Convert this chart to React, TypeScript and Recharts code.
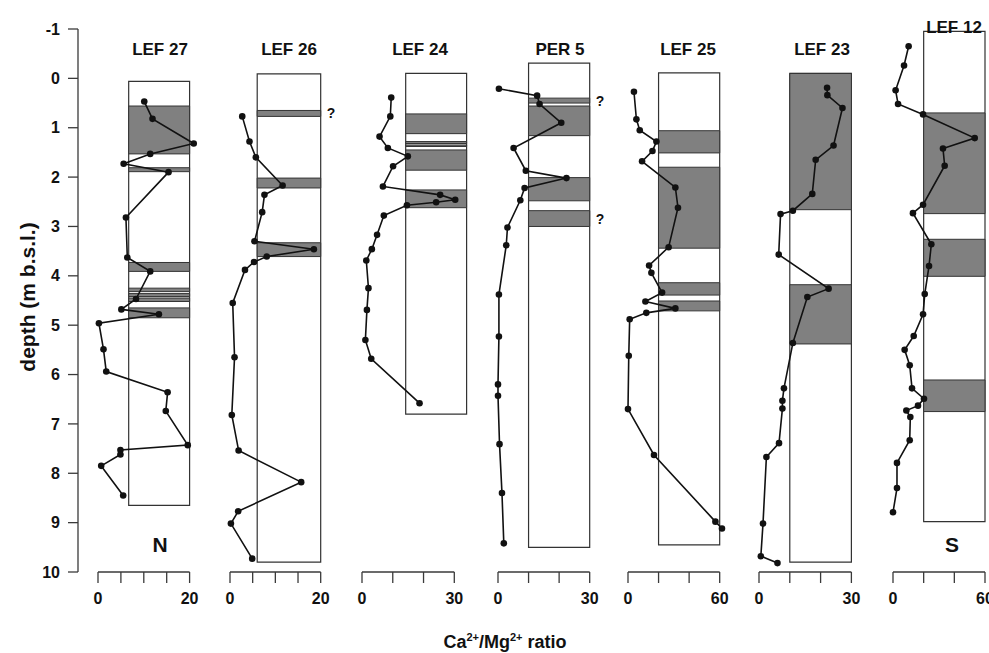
import React from "react";
import { ComposedChart, Scatter, XAxis, YAxis, ZAxis, ReferenceArea } from "recharts";

// depth axis (m b.s.l.)
const depthTicks = [-1, 0, 1, 2, 3, 4, 5, 6, 7, 8, 9, 10];

// LEF 27
const lef27Depth = [0.47, 0.82, 1.32, 1.53, 1.73, 1.9, 2.82, 3.63, 3.91, 4.47, 4.68, 4.78, 4.96, 5.49, 5.94, 6.36, 6.74, 7.43, 7.53, 7.62, 7.85, 8.45];
const lef27Ratio = [10.1, 11.9, 20.9, 11.4, 5.6, 15.4, 6.1, 6.4, 11.4, 8.3, 5.1, 13.3, 0.2, 1.2, 1.8, 15.2, 14.8, 19.6, 4.9, 4.9, 0.7, 5.5];
const lef27Core = [0.06, 8.65];
const lef27Bands = [[0.56, 1.53], [1.81, 1.89], [3.73, 3.91], [4.25, 4.32], [4.36, 4.42], [4.45, 4.52], [4.65, 4.85]];

// LEF 26
const lef26Depth = [0.77, 1.28, 1.6, 2.17, 2.36, 2.71, 3.3, 3.46, 3.61, 3.72, 3.88, 4.55, 5.65, 6.82, 7.54, 8.18, 8.77, 9.02, 9.73];
const lef26Ratio = [2.7, 4.3, 5.7, 11.6, 7.6, 7.1, 5.4, 18.5, 8.1, 5.3, 3.3, 0.6, 1.0, 0.4, 1.9, 15.7, 1.8, 0.2, 4.9];
const lef26Core = [-0.09, 9.8];
const lef26Bands = [[0.65, 0.77], [2.02, 2.22], [3.33, 3.61]];

// LEF 24
const lef24Depth = [0.39, 0.77, 1.18, 1.41, 1.58, 1.78, 2.19, 2.36, 2.46, 2.51, 2.57, 2.78, 3.17, 3.46, 3.69, 4.25, 4.69, 5.3, 5.68, 6.58];
const lef24Ratio = [9.5, 9.2, 5.7, 8.4, 14.9, 10.1, 6.8, 25.4, 30.3, 24.1, 14.6, 7.1, 4.9, 3.2, 1.4, 2.1, 1.6, 1.1, 3.0, 18.7];
const lef24Core = [-0.1, 6.8];
const lef24Bands = [[0.72, 1.12], [1.28, 1.32], [1.35, 1.38], [1.45, 1.86], [2.26, 2.62]];

// PER 5
const per5Depth = [0.21, 0.35, 0.52, 0.9, 1.41, 1.87, 2.02, 2.22, 2.47, 3.02, 3.38, 4.38, 5.23, 6.2, 6.43, 7.41, 8.4, 9.42];
const per5Ratio = [0.3, 12.8, 13.6, 20.7, 5.1, 9.1, 22.4, 8.7, 7.3, 3.1, 2.7, 0.3, 0.3, 0.0, 0.0, 0.5, 1.3, 1.9];
const per5Core = [-0.31, 9.5];
const per5Bands = [[0.4, 0.5], [0.56, 1.16], [2.01, 2.48], [2.68, 3.0]];

// LEF 25
const lef25Depth = [0.27, 0.83, 1.05, 1.28, 1.47, 1.68, 2.21, 2.62, 3.42, 3.79, 3.94, 4.34, 4.52, 4.66, 4.75, 4.88, 5.62, 6.7, 7.63, 8.98, 9.12];
const lef25Ratio = [3.9, 5.5, 7.7, 18.6, 16.0, 9.2, 31.0, 32.7, 26.6, 13.8, 15.3, 22.3, 11.4, 31.0, 12.0, 1.1, 0.5, 0.0, 17.0, 57.2, 61.5];
const lef25Core = [-0.11, 9.45];
const lef25Bands = [[1.06, 1.51], [1.8, 3.44], [4.14, 4.39], [4.51, 4.71]];

// LEF 23
const lef23Depth = [0.19, 0.34, 0.6, 1.36, 1.65, 2.34, 2.68, 2.75, 3.57, 4.26, 4.43, 5.36, 6.28, 6.53, 6.69, 7.39, 7.67, 9.02, 9.68, 9.82];
const lef23Ratio = [22.1, 22.2, 27.1, 24.2, 18.4, 17.3, 11.0, 7.0, 6.4, 22.6, 15.7, 11.0, 8.1, 7.6, 7.6, 6.5, 2.4, 1.3, 0.6, 6.0];
const lef23Core = [-0.1, 9.8];
const lef23Bands = [[-0.1, 2.66], [4.18, 5.38]];

// LEF 12
const lef12Depth = [-0.65, -0.26, 0.24, 0.52, 0.73, 1.21, 1.42, 1.77, 2.56, 2.73, 3.36, 3.8, 4.37, 4.78, 5.22, 5.5, 5.81, 6.28, 6.49, 6.63, 6.73, 6.86, 7.33, 7.79, 8.3, 8.79];
const lef12Ratio = [10.2, 7.2, 1.7, 3.3, 19.6, 53.3, 32.6, 33.7, 19.6, 13.0, 25.0, 23.5, 20.7, 19.6, 13.5, 7.6, 10.9, 12.4, 20.2, 16.3, 8.7, 11.3, 10.9, 2.6, 2.6, 0.0];
const lef12Core = [-0.95, 8.98];
const lef12Bands = [[0.7, 2.74], [3.26, 4.01], [6.11, 6.75]];

const W = 989;
const H = 653;
const TOP = 29; // y of depth -1
const BOTTOM = 572; // y of depth 10
const XH = 40;
const FONT = "'Liberation Sans', Arial, sans-serif";
const INK = "#111";
const LINE = "#3a3a3a";

const panels = [
  { name: "LEF 27", depth: lef27Depth, ratio: lef27Ratio, core: lef27Core, coreX: [6.7, 20], bands: lef27Bands, query: [], max: 20, ticks: [0, 5, 10, 15, 20], x0: 97.7, x1: 189.3, title: [160, 50] },
  { name: "LEF 26", depth: lef26Depth, ratio: lef26Ratio, core: lef26Core, coreX: [6, 20], bands: lef26Bands, query: [0], max: 20, ticks: [0, 5, 10, 15, 20], x0: 230, x1: 320.7, title: [289, 50] },
  { name: "LEF 24", depth: lef24Depth, ratio: lef24Ratio, core: lef24Core, coreX: [14.2, 34], bands: lef24Bands, query: [], max: 30, ticks: [0, 10, 20, 30], x0: 361.7, x1: 454, title: [420, 50] },
  { name: "PER 5", depth: per5Depth, ratio: per5Ratio, core: per5Core, coreX: [10, 30], bands: per5Bands, query: [0, 3], max: 30, ticks: [0, 10, 20, 30], x0: 498.3, x1: 590, title: [560, 50] },
  { name: "LEF 25", depth: lef25Depth, ratio: lef25Ratio, core: lef25Core, coreX: [20, 60], bands: lef25Bands, query: [], max: 60, ticks: [0, 20, 40, 60], x0: 628.3, x1: 720, title: [688, 50] },
  { name: "LEF 23", depth: lef23Depth, ratio: lef23Ratio, core: lef23Core, coreX: [10, 30], bands: lef23Bands, query: [], max: 30, ticks: [0, 10, 20, 30], x0: 759.3, x1: 851.7, title: [822, 50] },
  { name: "LEF 12", depth: lef12Depth, ratio: lef12Ratio, core: lef12Core, coreX: [20, 60], bands: lef12Bands, query: [], max: 60, ticks: [0, 20, 40, 60], x0: 893.3, x1: 985.3, title: [954, 28] },
];

const tickStyle = { fill: INK, fontSize: 16, fontWeight: 700, fontFamily: FONT };

function CorePanel({ p }: { p: any }) {
  const ml = 20;
  const mr = 36;
  const data = p.depth.map((d: number, i: number) => ({ depth: d, ratio: p.ratio[i] }));
  return (
    <div style={{ position: "absolute", left: p.x0 - ml, top: 0 }}>
      <ComposedChart
        width={p.x1 - p.x0 + ml + mr}
        height={H}
        margin={{ top: TOP, bottom: H - BOTTOM - XH, left: ml, right: mr }}
        data={data}
      >
        <XAxis
          type="number"
          dataKey="ratio"
          domain={[0, p.max]}
          allowDataOverflow
          ticks={p.ticks}
          interval={0}
          tickFormatter={(v) => (v === 0 || v === p.max ? `${v}` : "")}
          height={XH}
          tickSize={11}
          tickMargin={10}
          stroke={LINE}
          strokeWidth={1.3}
          tick={tickStyle}
        />
        <YAxis type="number" dataKey="depth" domain={[-1, 10]} reversed hide allowDataOverflow />
        <ZAxis range={[34, 34]} />
        <ReferenceArea
          x1={p.coreX[0]}
          x2={p.coreX[1]}
          y1={p.core[0]}
          y2={p.core[1]}
          fill="#fff"
          fillOpacity={1}
          stroke="#333"
          strokeWidth={1.2}
          ifOverflow="visible"
        />
        {p.bands.map((b: number[], i: number) => (
          <ReferenceArea
            key={i}
            x1={p.coreX[0]}
            x2={p.coreX[1]}
            y1={b[0]}
            y2={b[1]}
            fill="#808080"
            fillOpacity={1}
            stroke="#333"
            strokeWidth={1}
            ifOverflow="visible"
            label={
              p.query.includes(i)
                ? { value: "?", position: "right", offset: 6, fill: INK, fontSize: 14, fontWeight: 700, fontFamily: FONT }
                : undefined
            }
          />
        ))}
        <Scatter
          data={data}
          dataKey="ratio"
          fill={INK}
          line={{ stroke: INK, strokeWidth: 1.6 }}
          isAnimationActive={false}
        />
      </ComposedChart>
    </div>
  );
}

export default function App() {
  const axisData = depthTicks.map((d) => ({ depth: d }));
  return (
    <div style={{ position: "absolute", left: 0, top: 0, width: W, height: H, background: "#fff", fontFamily: FONT, color: INK }}>
      <style>{`.recharts-wrapper [clip-path]{clip-path:none !important}`}</style>
      <div style={{ position: "absolute", left: 0, top: 0 }}>
        <ComposedChart width={90} height={H} margin={{ top: TOP, bottom: H - BOTTOM, left: 0, right: 0 }} data={axisData}>
          <XAxis hide type="number" domain={[0, 1]} allowDataOverflow />
          <YAxis
            type="number"
            dataKey="depth"
            domain={[-1, 10]}
            allowDataOverflow
            reversed
            ticks={depthTicks}
            interval={0}
            width={78}
            tickSize={10}
            tickMargin={8}
            stroke={LINE}
            strokeWidth={1.3}
            tick={tickStyle}
          />
        </ComposedChart>
      </div>
      {panels.map((p) => (
        <CorePanel key={p.name} p={p} />
      ))}
      {panels.map((p) => (
        <div
          key={p.name + "t"}
          style={{ position: "absolute", left: p.title[0] - 50, top: p.title[1] - 10, width: 100, textAlign: "center", fontSize: 17, fontWeight: 700, lineHeight: "20px" }}
        >
          {p.name}
        </div>
      ))}
      <div style={{ position: "absolute", left: 140, top: 532, width: 40, textAlign: "center", fontSize: 21, fontWeight: 700, lineHeight: "26px" }}>N</div>
      <div style={{ position: "absolute", left: 932, top: 532, width: 40, textAlign: "center", fontSize: 21, fontWeight: 700, lineHeight: "26px" }}>S</div>
      <div
        style={{ position: "absolute", left: 28 - 120, top: 297 - 14, width: 240, height: 28, textAlign: "center", fontSize: 21, fontWeight: 700, lineHeight: "28px", transform: "rotate(-90deg)" }}
      >
        depth (m b.s.l.)
      </div>
      <div style={{ position: "absolute", left: 405, top: 623, width: 200, textAlign: "center", fontSize: 18, fontWeight: 700, lineHeight: "28px" }}>
        Ca<sup style={{ fontSize: 11 }}>2+</sup>/Mg<sup style={{ fontSize: 11 }}>2+</sup> ratio
      </div>
    </div>
  );
}
